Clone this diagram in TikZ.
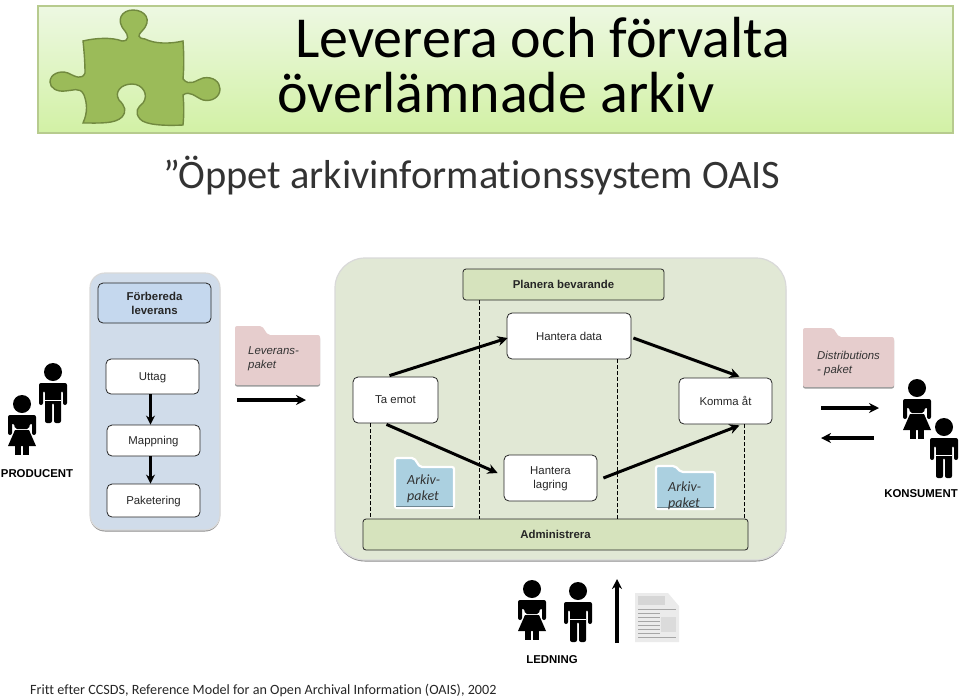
\documentclass[tikz,border=0pt]{standalone}
\usepackage{fontspec}
\usepackage{xcolor}
\usepackage{tikz}
\usetikzlibrary{arrows.meta,positioning,calc,shadows}
\setmainfont{Liberation Sans}
\newfontfamily\carlito[Ligatures=NoCommon]{Carlito}
\definecolor{titletop}{HTML}{EDF8E2}
\definecolor{titlebot}{HTML}{D2F1A5}
\definecolor{titleline}{HTML}{B7CB8E}
\definecolor{piecefill}{HTML}{9BBB59}
\definecolor{pieceline}{HTML}{71893F}
\definecolor{bluepanel}{HTML}{D0DCEA}
\definecolor{bluehead}{HTML}{C5D8EE}
\definecolor{greenpanel}{HTML}{E1E8D5}
\definecolor{greenhead}{HTML}{D6E3BD}
\definecolor{pinkfolder}{HTML}{E6CDCD}
\definecolor{bluefolder}{HTML}{ABD0E0}
\newcommand{\foldershape}[6]{(#1,#6) -- (#1,#2) -- (#3,#2) -- ($(#3,#2)+(6,#4-#2)$) -- (#5,#4) -- (#5,#6) -- cycle}
\newcommand{\labelsize}{\fontsize{11.4}{14}\selectfont}

\begin{document}
\begin{tikzpicture}[
    x=1pt, y=-1pt,
    lab/.style={font=\labelsize, text=black!85, align=center, inner sep=0pt, text depth=0pt},
    box/.style={
        draw=black!85,
        fill=white,
        line width=0.8pt,
        rounded corners=5pt,
        lab
    },
    head/.style={box, font=\labelsize\bfseries},
    panel/.style={
        draw=white!85!black,
        line width=1.2pt,
        rounded corners=#1,
        drop shadow={shadow xshift=0pt, shadow yshift=-1.5pt, fill=black, opacity=0.45}
    },
    actor/.style={font=\labelsize\bfseries, inner sep=0pt},
    folderlab/.style={font=\labelsize\itshape, align=left, inner sep=0pt, anchor=west, text=black!80},
    arkivlab/.style={font=\carlito\fontsize{14}{16}\selectfont\itshape, align=left, inner sep=0pt, anchor=west, text=black!80},
    pinkbag/.style={rounded corners=2pt, fill=pinkfolder,
        drop shadow={shadow xshift=0pt, shadow yshift=-1.5pt, fill=black, opacity=0.4}},
    bluebag/.style={rounded corners=2pt, fill=bluefolder, draw=white, line width=2.2pt},
    arrow/.style={-{Stealth[length=9pt,width=9pt]}, line width=2.8pt, black},
    longarrow/.style={-{Stealth[length=10pt,width=10pt]}, line width=3.4pt, black},
    flow/.style={-{Stealth[length=10pt,width=10pt]}, line width=3pt, black},
    dashline/.style={black, line width=0.8pt, dash pattern=on 3.5pt off 2.5pt},
    manfig/.pic={
        \fill (0,9) circle (9);
        \fill[rounded corners=2pt] (-14,42) -- (-14,20) -- (14,20) -- (14,42) -- (10,42) -- (10,28) -- (8,28)
            -- (8,60) -- (1,60) -- (1,40) -- (-1,40) -- (-1,60) -- (-8,60) -- (-8,28) -- (-10,28) -- (-10,42) -- cycle;
        \draw[white, line width=0.6pt] (-8,37) -- (8,37);
    },
    womanfig/.pic={
        \fill (0,9) circle (9);
        \fill[rounded corners=2pt] (-14,40) -- (-14,20) -- (14,20) -- (14,40) -- (10,40) -- (10,28) -- (8,28)
            -- (7,34) -- (-7,34) -- (-8,28) -- (-10,28) -- (-10,40) -- cycle;
        \fill (-7,35) -- (7,35) -- (14,51) -- (-14,51) -- cycle;
        \fill (-7,51) -- (-1,51) -- (-1,60) -- (-7,60) -- cycle;
        \fill (1,51) -- (7,51) -- (7,60) -- (1,60) -- cycle;
    }
]
\useasboundingbox (0,0) rectangle (960,697);

% title
\draw[titleline, line width=1.2pt, top color=titletop, bottom color=titlebot] (38,6) rectangle (953,133);
\draw[pieceline, line width=1.4pt, fill=piecefill]
    (83,41) .. controls (95,38) and (112,37) .. (122,41)
    .. controls (130,41) and (128,35) .. (125,31)
    .. controls (115,20) and (122,10) .. (133,10)
    .. controls (145,10) and (153,20) .. (142,31)
    .. controls (138,35) and (137,38) .. (145,39)
    .. controls (155,44) and (170,44) .. (183,41)
    .. controls (184,55) and (184,68) .. (183,79)
    .. controls (190,87) and (196,80) .. (203,78)
    .. controls (213,76) and (220,82) .. (220,89)
    .. controls (220,97) and (212,102) .. (203,100)
    .. controls (195,97) and (190,90) .. (183,95)
    .. controls (184,105) and (184,115) .. (183,125)
    .. controls (165,126) and (145,125) .. (140,119)
    .. controls (134,112) and (138,107) .. (143,103)
    .. controls (149,95) and (143,84) .. (132,84)
    .. controls (121,84) and (114,92) .. (119,100)
    .. controls (125,106) and (127,111) .. (122,117)
    .. controls (115,124) and (100,123) .. (83,123)
    .. controls (88,112) and (87,103) .. (84,95)
    .. controls (80,86) and (72,91) .. (65,91)
    .. controls (57,92) and (50,88) .. (50,82)
    .. controls (50,74) and (60,70) .. (68,73)
    .. controls (76,77) and (82,80) .. (85,73)
    .. controls (85,62) and (84,50) .. (83,41) -- cycle;
\node[anchor=base west, inner sep=0pt, font=\carlito\fontsize{58}{60}\selectfont] (title1) at (295,57) {Leverera och förvalta};
\node[anchor=base west, inner sep=0pt, font=\carlito\fontsize{58}{60}\selectfont] (title2) at (277,112) {överlämnade arkiv};
\node[anchor=base west, inner sep=0pt, font=\carlito\fontsize{40.4}{44}\selectfont, text=black!80] (subtitle) at (163,188) {”Öppet arkivinformationssystem OAIS};

% producer side
\draw[panel=15pt, fill=bluepanel] (90,273) rectangle (220,530);
\node[head, fill=bluehead, minimum width=113pt, minimum height=40pt] (prepare) at (154.5,303) {Förbereda\\leverans};
\node[box, minimum width=93pt, minimum height=35pt] (uttag) at (152.5,376.5) {Uttag};
\node[box, minimum width=93pt, minimum height=31pt] (mappning) at (153.5,440.5) {Mappning};
\node[box, minimum width=93pt, minimum height=33pt] (paketering) at (153.5,500.5) {Paketering};
\draw[arrow] ([xshift=-2pt]uttag.south) -- ([xshift=-2pt]uttag.south |- mappning.north);
\draw[arrow] ([xshift=-3pt]mappning.south) -- ([xshift=-3pt]mappning.south |- paketering.north);
\pic at (53,363) {manfig};
\pic at (22,395) {womanfig};
\node[actor] (producer) at (37,474) {PRODUCENT};

% leveranspaket
\path[pinkbag] \foldershape{235}{326}{262}{335}{320}{385};
\node[folderlab] (levtext) at (248,358.5) {Leverans-\\paket};
\coordinate (levstart) at (237,400);
\coordinate (levend) at (306,400);
\draw[longarrow] (levstart) -- (levend);

% archive
\draw[panel=30pt, fill=greenpanel] (335,258) rectangle (786,560);
\node[head, fill=greenhead, rounded corners=3pt, minimum width=201pt, minimum height=31pt] (plan) at (563.5,284.5) {Planera bevarande};
\node[head, fill=greenhead, rounded corners=3pt, minimum width=385pt, minimum height=31pt] (admin) at (555.5,534.5) {Administrera};
\node[box, minimum width=124pt, minimum height=46pt] (data) at (569,336) {Hantera data};
\node[box, minimum width=85pt, minimum height=46pt] (taemot) at (395.5,400) {Ta emot};
\node[box, minimum width=93pt, minimum height=46pt] (lagring) at (550.5,478) {Hantera\\lagring};
\node[box, minimum width=93pt, minimum height=46pt] (komma) at (725.5,401) {Komma åt};

\draw[dashline] (taemot.south -| 370,0) -- (admin.north -| 370,0);
\draw[dashline] (plan.south -| 479,0) -- (admin.north -| 479,0);
\draw[dashline] (data.south -| 617,0) -- (admin.north -| 617,0);
\draw[dashline] (komma.south -| 744,0) -- (admin.north -| 744,0);

\draw[flow] ($(taemot.north)+(-6,-1)$) -- ($(data.west)+(1,2)$);
\draw[flow] ($(taemot.south)+(-9,1)$) -- ($(lagring.west)+(-6,-5)$);
\draw[flow] ($(data.east)+(2,2)$) -- ($(komma.north)+(14,-1)$);
\draw[flow] ($(lagring.east)+(6,0)$) -- ($(komma.south)+(14,1)$);

\path[bluebag] \foldershape{395}{458}{414}{467}{454}{508};
\fill[bluefolder!65!black] (396,505.5) rectangle (453,507);
\node[arkivlab] (arkiv1) at (407,489) {Arkiv-\\paket};
\path[bluebag] \foldershape{656}{466}{675}{472}{715}{509};
\fill[bluefolder!65!black] (657,506.5) rectangle (714,508);
\node[arkivlab] (arkiv2) at (668,495.5) {Arkiv-\\paket};

% consumer side
\path[pinkbag] \foldershape{803}{328}{833}{337}{894}{387};
\node[folderlab] (distext) at (817,364) {Distributions\\- paket};
\coordinate (disstart) at (821,408);
\coordinate (disend) at (879,408);
\coordinate (reqstart) at (874,438);
\coordinate (reqend) at (821,438);
\draw[longarrow] (disstart) -- (disend);
\draw[longarrow] (reqstart) -- (reqend);
\pic at (917,379) {womanfig};
\pic at (944,418) {manfig};
\node[actor] (consumer) at (921,494) {KONSUMENT};

% management
\pic at (532,580) {womanfig};
\pic at (578,582) {manfig};
\coordinate (mgmtstart) at (617,643);
\coordinate (mgmtend) at (617,579);
\draw[longarrow] (mgmtstart) -- (mgmtend);
\fill[black!8] (635,593) -- (668,593) -- (679,606) -- (679,642) -- (635,642) -- cycle;
\fill[black!16] (638,596) rectangle (665,605);
\fill[black!14] (661,617) rectangle (676,632);
\foreach \ypos in {609,613,617,621,625,629,633,637} {
    \draw[black!35, line width=0.7pt] (638,\ypos) -- (660,\ypos);
}
\draw[black!35, line width=0.7pt] (638,637) -- (676,637);
\draw[black!35, line width=0.7pt] (638,609) -- (676,609);
\node[actor] (mgmt) at (552,660) {LEDNING};

\node[anchor=base west, inner sep=0pt, font=\carlito\fontsize{14.15}{16}\selectfont, text=black!85] (source) at (30,694) {Fritt efter CCSDS, Reference Model for an Open Archival Information (OAIS), 2002};
\end{tikzpicture}
\end{document}
